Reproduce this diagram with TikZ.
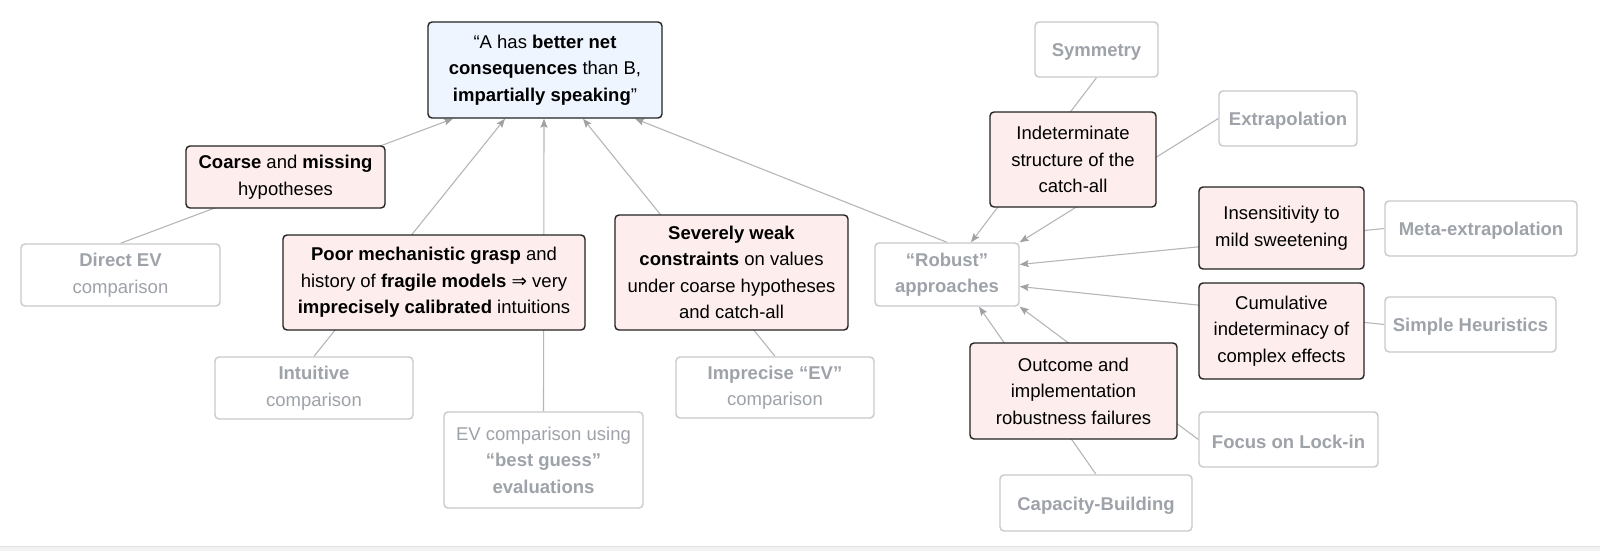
\documentclass[tikz,border=0pt]{standalone}
\usepackage{fontspec}
\setmainfont{Liberation Sans}
\newfontfamily\djv{DejaVu Sans}
\usetikzlibrary{arrows.meta,backgrounds}
\definecolor{pinkfill}{RGB}{253,238,237}
\definecolor{bluefill}{RGB}{238,245,255}
\definecolor{darkline}{RGB}{34,34,34}
\definecolor{grayborder}{RGB}{200,201,204}
\definecolor{graytext}{RGB}{158,162,169}
\definecolor{edgecol}{RGB}{182,182,184}
\definecolor{tipcol}{RGB}{160,161,164}
\definecolor{bandcol}{RGB}{242,242,243}
\tikzset{
  basebox/.style={rounded corners=4pt, line width=1.4pt, align=center, inner sep=0pt,
    font={\fontsize{18.5pt}{26.5pt}\selectfont},
    execute at begin node={\rule{0pt}{18.5pt}}},
  mainbox/.style={basebox, draw=darkline, fill=bluefill},
  pinkbox/.style={basebox, draw=darkline, fill=pinkfill, text=black},
  graybox/.style={basebox, draw=grayborder, fill=white, text=graytext},
  conn/.style={draw=edgecol, line width=1.1pt},
  arr/.style={conn, -{Stealth[length=9pt,width=7pt,inset=1.5pt,color=tipcol]}},
}
\begin{document}
\begin{tikzpicture}[x=1pt,y=-1pt]
\useasboundingbox (0,0) rectangle (1600,551);
\fill[bandcol] (0,546) rectangle (1600,551);
\draw[color=bandcol!85!gray, line width=0.6pt] (0,546) -- (1600,546);

% left/centre nodes
\node[mainbox, minimum width=234pt, minimum height=96pt] (main) at (545,70)
  {“A has \textbf{better net}\\\textbf{consequences} than B,\\\textbf{impartially speaking}”};
\node[pinkbox, minimum width=199pt, minimum height=62pt] (coarse) at (285.5,177)
  {\textbf{Coarse} and \textbf{missing}\\hypotheses};
\node[graybox, minimum width=199pt, minimum height=62pt] (direct) at (120.5,275)
  {\textbf{Direct EV}\\comparison};
\node[pinkbox, minimum width=302pt, minimum height=95pt] (poor) at (434,282.5)
  {\textbf{Poor mechanistic grasp} and\\history of \textbf{fragile models} {\djv ⇒} very\\\textbf{imprecisely calibrated} intuitions};
\node[graybox, minimum width=198pt, minimum height=62pt] (intuitive) at (314,388)
  {\textbf{Intuitive}\\comparison};
\node[graybox, minimum width=199pt, minimum height=96pt] (evguess) at (543.5,460)
  {EV comparison using\\\textbf{“best guess”}\\\textbf{evaluations}};
\node[pinkbox, minimum width=233pt, minimum height=115pt] (severe) at (731.5,272.5)
  {\textbf{Severely weak}\\\textbf{constraints} on values\\under coarse hypotheses\\and catch-all};
\node[graybox, minimum width=198pt, minimum height=61pt] (imprecise) at (775,387.5)
  {\textbf{Imprecise “EV”}\\comparison};

% right nodes
\node[graybox, minimum width=144pt, minimum height=63pt] (robust) at (947,274.5)
  {\textbf{“Robust”}\\\textbf{approaches}};
\node[pinkbox, minimum width=166pt, minimum height=95pt] (indet) at (1073,159.5)
  {Indeterminate\\structure of the\\catch-all};
\node[graybox, minimum width=123pt, minimum height=55pt] (symmetry) at (1096.5,49.5)
  {\textbf{Symmetry}};
\node[graybox, minimum width=138pt, minimum height=55pt] (extrap) at (1288,118.5)
  {\textbf{Extrapolation}};
\node[pinkbox, minimum width=165pt, minimum height=82pt] (insens) at (1281.5,228)
  {Insensitivity to\\mild sweetening};
\node[graybox, minimum width=192pt, minimum height=55pt] (meta) at (1481,228.5)
  {\textbf{Meta-extrapolation}};
\node[pinkbox, minimum width=165pt, minimum height=96pt] (cumul) at (1281.5,331)
  {Cumulative\\indeterminacy of\\complex effects};
\node[graybox, minimum width=171pt, minimum height=55pt] (simple) at (1470.5,324.5)
  {\textbf{Simple Heuristics}};
\node[pinkbox, minimum width=207pt, minimum height=96pt] (outcome) at (1073.5,391)
  {Outcome and\\implementation\\robustness failures};
\node[graybox, minimum width=179pt, minimum height=55pt] (focus) at (1288.5,439.5)
  {\textbf{Focus on Lock-in}};
\node[graybox, minimum width=192pt, minimum height=56pt] (capacity) at (1096,503)
  {\textbf{Capacity-Building}};

\begin{pgfonlayer}{background}
  \draw[arr] (direct.north) -- ([xshift=-92pt]main.south);
  \draw[arr] (intuitive.north) -- ([xshift=-40pt]main.south);
  \draw[arr] (evguess.north) -- ([xshift=-1pt]main.south);
  \draw[arr] (imprecise.north) -- ([xshift=38pt]main.south);
  \draw[arr] (robust.north) -- ([xshift=90pt]main.south);
  \draw[arr] (symmetry.south) -- ([xshift=24pt]robust.north);
  \draw[arr] (extrap.west) -- (robust.north east);
  \draw[arr] (meta.west) -- ([yshift=10pt]robust.east);
  \draw[arr] (simple.west) -- ([yshift=-12pt]robust.east);
  \draw[arr] (focus.west) -- (robust.south east);
  \draw[arr] (capacity.north) -- ([xshift=32pt]robust.south);
\end{pgfonlayer}
\end{tikzpicture}
\end{document}
